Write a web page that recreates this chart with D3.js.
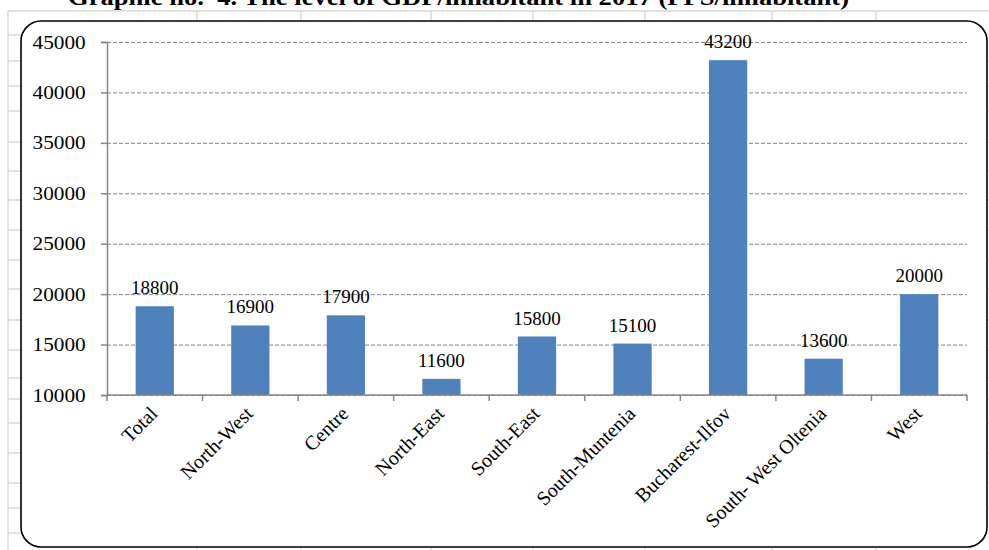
<!DOCTYPE html>
<html>
<head>
<meta charset="utf-8">
<script src="https://cdn.jsdelivr.net/npm/d3@7"></script>
<style>
  body { margin: 0; background: #fff; }
  svg text { font-family: "Liberation Serif", "Times New Roman", serif; }
</style>
</head>
<body>
<script>
const regions = ["Total", "North-West", "Centre", "North-East", "South-East",
    "South-Muntenia", "Bucharest-Ilfov", "South- West Oltenia", "West"];
const gdp = [18800, 16900, 17900, 11600, 15800, 15100, 43200, 13600, 20000];
const yTicks = [10000, 15000, 20000, 25000, 30000, 35000, 40000, 45000];
const titleText = "Graphic no.  4. The level of GDP/inhabitant in 2017 (PPS/inhabitant)";

// spreadsheet cells behind the chart (decoration)
const sheetCols = [8, 197, 301, 431, 533, 645, 772, 876];
const sheetRows = [11, 35, 61, 86, 111, 142, 171, 200, 230, 260, 289, 320, 350,
    378, 399, 423, 453, 483, 508, 533];

const W = 989, H = 550;
const margin = { top: 42, right: 22, bottom: 155, left: 107 };
const width = W - margin.left - margin.right;
const height = H - margin.top - margin.bottom;

const svg = d3.select("body").append("svg")
    .attr("width", W)
    .attr("height", H);

// sheet grid
const sheet = svg.append("g").attr("stroke", "#d9d9d9").attr("stroke-width", 1.5);
sheet.selectAll(".col")
    .data(sheetCols)
  .enter().append("line")
    .attr("x1", d => d).attr("x2", d => d)
    .attr("y1", 11).attr("y2", H);
sheet.selectAll(".row")
    .data(sheetRows)
  .enter().append("line")
    .attr("x1", 8).attr("x2", W)
    .attr("y1", d => d).attr("y2", d => d);

// title, cut by the top of the page as in the source
svg.append("text")
    .attr("x", 68)
    .attr("y", 5)
    .attr("textLength", 781)
    .attr("lengthAdjust", "spacingAndGlyphs")
    .style("font-weight", "bold")
    .style("font-size", "23px")
    .style("white-space", "pre")
    .text(titleText);

// chart area box
svg.append("rect")
    .attr("x", 21)
    .attr("y", 21)
    .attr("width", 966)
    .attr("height", 526)
    .attr("rx", 20)
    .attr("fill", "#fff")
    .attr("stroke", "#000")
    .attr("stroke-width", 1.6);

const g = svg.append("g")
    .attr("transform", "translate(" + margin.left + "," + margin.top + ")");

const x = d3.scaleBand()
    .domain(regions)
    .range([0, width])
    .paddingInner(0.6)
    .paddingOuter(0.3);

const y = d3.scaleLinear()
    .domain([10000, 45000])
    .range([height, 0]);

// gridlines
g.append("g")
    .attr("class", "grid")
    .call(d3.axisLeft(y).tickValues(yTicks).tickSize(-width).tickFormat(""))
    .call(s => s.select(".domain").remove())
    .selectAll("line")
    .attr("stroke", "#868686")
    .attr("stroke-dasharray", "4,2");

g.selectAll(".bar")
    .data(gdp)
  .enter().append("rect")
    .attr("class", "bar")
    .attr("x", (d, i) => x(regions[i]))
    .attr("y", d => y(d))
    .attr("width", x.bandwidth())
    .attr("height", d => height - y(d))
    .attr("fill", "#4f81bd");

// y axis
const yAxis = g.append("g")
    .call(d3.axisLeft(y).tickValues(yTicks).tickSize(6).tickPadding(13).tickFormat(d3.format("d")));
yAxis.attr("font-family", null);
yAxis.select(".domain").attr("stroke", "#868686").attr("stroke-width", 1.5);
yAxis.selectAll(".tick line").attr("stroke", "#868686").attr("stroke-width", 1.5);
yAxis.selectAll(".tick text")
    .attr("fill", "#000")
    .style("font-size", "19px")
    .attr("transform", "scale(1.12,1)");

// x axis with boundary ticks
const step = x.step();
const xb = g.append("g").attr("transform", "translate(0," + height + ")");
xb.append("line")
    .attr("x1", 0).attr("x2", width)
    .attr("stroke", "#868686").attr("stroke-width", 1.5);
xb.selectAll(".xt")
    .data(d3.range(regions.length + 1))
  .enter().append("line")
    .attr("x1", i => i * step).attr("x2", i => i * step)
    .attr("y1", 0).attr("y2", 6)
    .attr("stroke", "#868686").attr("stroke-width", 1.5);

xb.selectAll(".xl")
    .data(regions)
  .enter().append("text")
    .attr("transform", d => "translate(" + (x(d) + x.bandwidth() / 2 - 6) + ",10) rotate(-45)")
    .attr("text-anchor", "end")
    .attr("dy", "0.7em")
    .style("font-size", "20px")
    .text(d => d);

// value labels
g.selectAll(".val")
    .data(gdp)
  .enter().append("text")
    .attr("x", (d, i) => x(regions[i]) + x.bandwidth() / 2)
    .attr("y", d => y(d) - 12)
    .attr("text-anchor", "middle")
    .style("font-size", "19px")
    .text(d => d);
</script>
</body>
</html>
